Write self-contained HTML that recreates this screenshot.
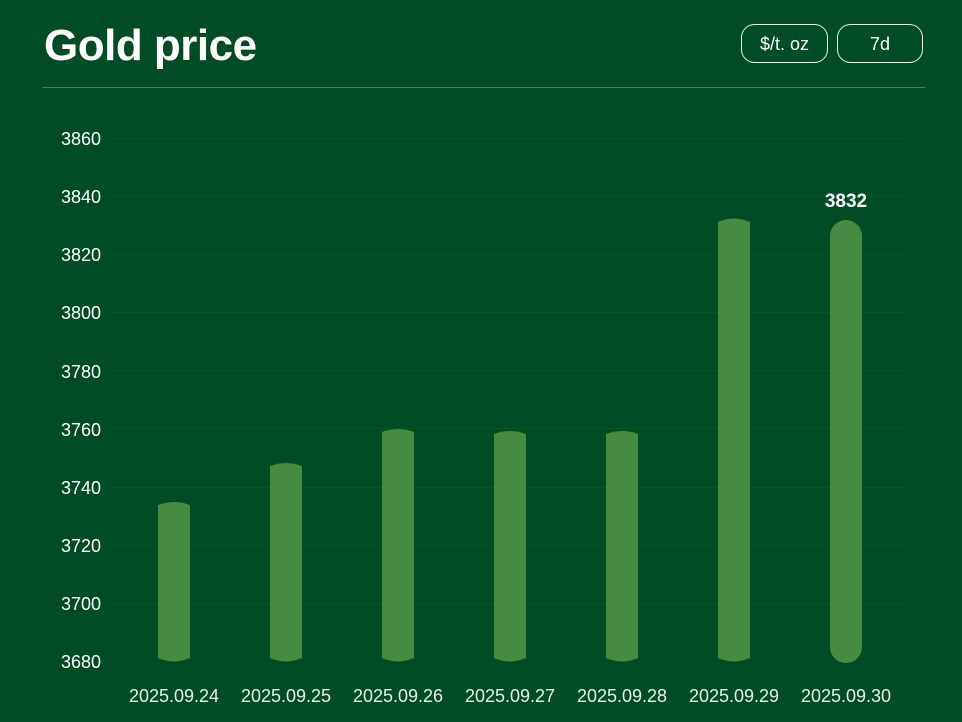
<!DOCTYPE html>
<html><head><style>
body{margin:0;background:#004d25;width:962px;height:717px;overflow:hidden;font-family:"Liberation Sans",sans-serif;}
</style></head><body>
<svg width="962" height="717" xmlns="http://www.w3.org/2000/svg">
<rect width="962" height="717" fill="#004d25"/>
<text x="44" y="60" font-size="44" font-weight="bold" fill="#fff" font-family="Liberation Sans, sans-serif" letter-spacing="-0.5">Gold price</text>
<rect x="741.5" y="24.5" width="86" height="38" rx="13" fill="none" stroke="#e8f0e8" stroke-width="1"/>
<text x="784.5" y="50" font-size="18" fill="#fff" text-anchor="middle">$/t. oz</text>
<rect x="837.5" y="24.5" width="85" height="38" rx="13" fill="none" stroke="#e8f0e8" stroke-width="1"/>
<text x="880" y="50" font-size="18" fill="#fff" text-anchor="middle">7d</text>
<line x1="42" y1="87.5" x2="925" y2="87.5" stroke="#3f8a45" stroke-width="1"/>
<g stroke="#085528" stroke-width="1">
<line x1="110" y1="138.5" x2="905" y2="138.5"/>
<line x1="110" y1="196.5" x2="905" y2="196.5"/>
<line x1="110" y1="254.5" x2="905" y2="254.5"/>
<line x1="110" y1="312.5" x2="905" y2="312.5"/>
<line x1="110" y1="370.5" x2="905" y2="370.5"/>
<line x1="110" y1="428.5" x2="905" y2="428.5"/>
<line x1="110" y1="487.5" x2="905" y2="487.5"/>
<line x1="110" y1="545.5" x2="905" y2="545.5"/>
<line x1="110" y1="603.5" x2="905" y2="603.5"/>
</g>
<g font-size="18" fill="#fff" text-anchor="end">
<text x="101" y="145">3860</text>
<text x="101" y="203">3840</text>
<text x="101" y="261">3820</text>
<text x="101" y="319">3800</text>
<text x="101" y="378">3780</text>
<text x="101" y="436">3760</text>
<text x="101" y="494">3740</text>
<text x="101" y="552">3720</text>
<text x="101" y="610">3700</text>
<text x="101" y="668">3680</text>
</g>
<g fill="#478a41">
<path d="M158 505 Q174 499 190 505 L190 658 Q174 665 158 658 Z"/>
<path d="M270 466 Q286 460 302 466 L302 658 Q286 665 270 658 Z"/>
<path d="M382 432 Q398 426 414 432 L414 658 Q398 665 382 658 Z"/>
<path d="M494 434 Q510 428 526 434 L526 658 Q510 665 494 658 Z"/>
<path d="M606 434 Q622 428 638 434 L638 658 Q622 665 606 658 Z"/>
<path d="M718 222 Q734 215 750 222 L750 658 Q734 665 718 658 Z"/>
<rect x="830" y="220" width="32" height="443" rx="16"/>
</g>
<text x="846" y="207" font-size="19" font-weight="bold" fill="#fff" text-anchor="middle">3832</text>
<g font-size="18" fill="#e8eee8" text-anchor="middle">
<text x="174" y="702">2025.09.24</text>
<text x="286" y="702">2025.09.25</text>
<text x="398" y="702">2025.09.26</text>
<text x="510" y="702">2025.09.27</text>
<text x="622" y="702">2025.09.28</text>
<text x="734" y="702">2025.09.29</text>
<text x="846" y="702">2025.09.30</text>
</g>
</svg>
</body></html>
